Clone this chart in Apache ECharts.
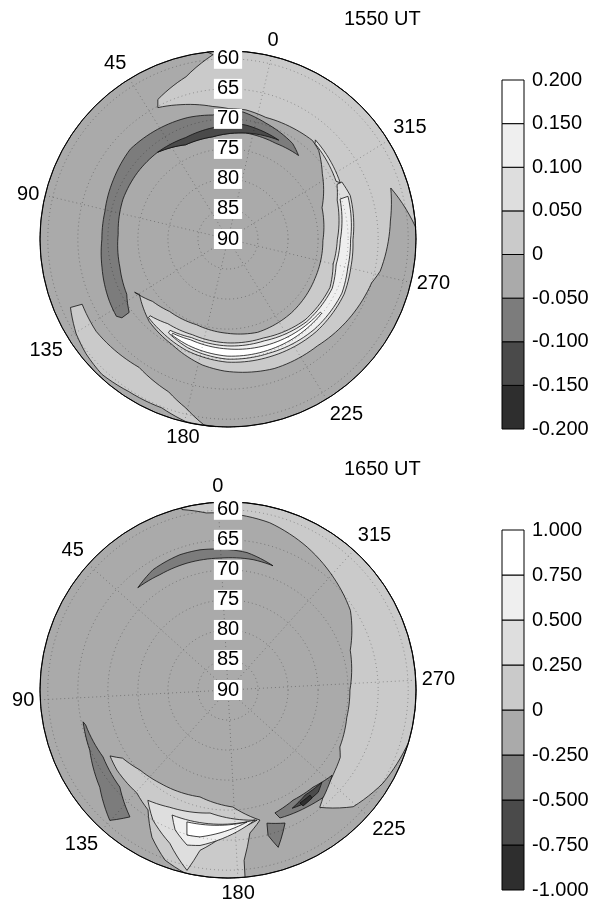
<!DOCTYPE html>
<html>
<head>
<meta charset="utf-8">
<script src="https://cdn.jsdelivr.net/npm/echarts@6/dist/echarts.min.js"></script>
<style>
html,body{margin:0;padding:0;background:#fff;}
#c{width:594px;height:906px;}
</style>
</head>
<body>
<div id="c"></div>
<script>
// ---------- tick labels ----------
const radialTickLabels = [90, 85, 80, 75, 70, 65, 60];           // latitude, centre -> edge
const mltTickLabels = [0, 45, 90, 135, 180, 225, 270, 315];     // angle labels
const rimLat = 58.7;                                            // latitude at the plot edge

// contour levels (colour bar boundaries)
const topLevels = [-0.2, -0.15, -0.1, -0.05, 0, 0.05, 0.1, 0.15, 0.2];
const bottomLevels = [-1, -0.75, -0.5, -0.25, 0, 0.25, 0.5, 0.75, 1];

// ---------- 1550 UT : regions as [latitude, angle] vertices ----------
const topDisc = [[rimLat, 0], [rimLat, 90], [rimLat, 180], [rimLat, 270]];
const topDuskBand = [[58.7, 19.7], [58.7, 340], [58.7, 287], [61.6, 300.8], [62.8, 289.7], [64.1, 271.5],
  [65.0, 266.4], [65.8, 251.5], [66.8, 233.3], [67.1, 213], [68.0, 192], [68.6, 181.8], [70.1, 165.6],
  [71.0, 149.8], [72.6, 135.5], [72.1, 133.1], [73.7, 143], [74.5, 154.5], [74.8, 173.2], [74.3, 193],
  [73.7, 211], [73.8, 234.2], [74.1, 258.9], [74.2, 282.4], [73.5, 301.8], [70.9, 318.1], [68.9, 327.7],
  [68.4, 332.7], [68.6, 343], [68.8, 356.1], [68.3, 5.5], [68.3, 13], [67.8, 19.9], [66.3, 32.7],
  [65.2, 41.5], [64.0, 40.1], [62.1, 27.9], [59.2, 18]];
const topDawnStrip = [[61.4, 126.9], [60.2, 135.4], [59.6, 142.4], [59.2, 150.4], [59.7, 160.4], [59.8, 172],
  [58.8, 180.4], [58.7, 189.7], [58.8, 186], [61.0, 179.4], [62.7, 172.2], [64.0, 158.7], [63.2, 138.4], [63.4, 127.5]];
const topSliver = [[68.0, 332], [69.1, 310], [69.6, 311.5], [68.5, 331]];
// bands: [angle, inner latitude, outer latitude]
const topBright1 = [[310, 69.7, 68.8], [303, 70.7, 68.4], [283, 71.8, 69.2], [270, 72.0, 69.0], [258, 71.2, 68.6],
  [237, 71.4, 68.7], [213, 72.5, 69.2], [193, 72.7, 69.5], [173, 73.0, 70.2], [158, 72.7, 71.0], [148, 71.8, 71.4]];
const topBright2 = [[303, 70.2, 68.8], [283, 71.3, 69.6], [270, 71.5, 69.5], [258, 70.8, 69.0], [237, 71.0, 69.2],
  [213, 72.0, 69.8], [193, 72.2, 70.0], [173, 72.5, 70.7], [161, 72.0, 71.5]];
const topBright3 = [[245, 70.4, 70.1], [225, 70.9, 70.2], [193, 71.7, 70.5], [173, 72.1, 71.1], [163, 71.8, 71.5]];
const topCrescent = [[71.8, 333.2], [70.8, 339.3], [69.7, 355.3], [68.7, 6.7], [69.2, 20.4], [68.7, 31.7],
  [68.3, 46.1], [67.9, 60.8], [68.5, 75.8], [69.0, 91], [69.0, 103.5], [68.5, 116], [67.7, 131.1], [67.4, 138.1],
  [68.0, 140], [69.5, 140], [70.8, 132], [71.4, 118], [71.7, 101], [71.3, 82.6], [71.3, 67], [71.4, 52.5],
  [72.8, 37.6], [72.8, 21.9], [72.1, 3.9], [72.2, 346.9]];
const topCrescentCore = [[71.5, 346.2], [70.8, 4.5], [70.7, 14.5], [71.3, 21.2], [71.7, 36], [71.4, 52.5],
  [72.8, 37.6], [72.8, 21.9], [72.1, 3.9]];
const topRegionValues = [-0.025, 0.025, 0.025, 0.075, 0.125, 0.175, 0.075, -0.075, -0.125];

// ---------- 1650 UT ----------
const bottomDisc = [[rimLat, 0], [rimLat, 90], [rimLat, 180], [rimLat, 270]];
const bottomDuskBand = [[58.7, 11.3], [58.7, 330], [58.7, 251], [59.9, 236], [61.5, 224], [65.2, 215], [66.8, 221],
  [67.7, 230], [68.2, 236], [69.1, 240], [69.7, 254], [69.7, 267], [68.6, 285], [65.7, 300], [64.3, 314],
  [62.8, 328], [61.3, 343], [60.8, 353], [60.3, 4], [59.0, 11.3]];
const bottomNight1 = [[67.5, 116.2], [69.1, 119.9], [70.2, 129.3], [70.8, 140.8], [71.6, 162.3], [70.5, 179.4],
  [67.7, 190.8], [65.9, 185.7], [61.5, 182.4], [58.7, 182.2], [58.7, 163.7], [59.8, 156.7], [62.4, 149.7],
  [66.0, 143.3], [67.1, 135.5], [67.2, 122.8]];
const bottomNight2 = [[67.3, 141], [68.2, 150.6], [69.3, 168.7], [67.8, 189.6], [66.2, 176.6], [62.9, 167.1],
  [59.2, 164.2], [62.7, 156.2], [65.0, 147]];
const bottomNight3 = [[67.2, 152.9], [67.9, 188.7], [63.7, 166.8], [63.3, 162.2], [65.1, 156.3]];
const bottomNight4 = [[67.0, 159.7], [67.8, 185.2], [65.1, 166.2], [64.9, 161.2]];
const bottomNoonArc = [[67.3, 38.4], [66.4, 29], [66.1, 16.6], [66.2, 8.3], [66.5, 0.2], [66.9, 349.1], [68.0, 337.1],
  [67.9, 346.1], [68.0, 0.5], [67.8, 14.9], [67.7, 27.6]];
const bottomDawnStreak = [[65.3, 99.4], [64.9, 110.5], [63.2, 124.2], [60.7, 134.8], [63.3, 139.3], [65.8, 128.9],
  [66.4, 115.2], [65.6, 100.8]];
const bottomBlob = [[67.6, 227.7], [68.5, 218.2], [68.7, 207.6], [68.1, 197.9], [67.0, 199.1], [66.5, 211], [66.1, 218.6]];
const bottomBlobCore2 = [[68.1, 222.6], [68.3, 213.3], [67.6, 205.5], [67.2, 211.3], [67.3, 218.4]];
const bottomBlobCore1 = [[67.8, 215], [67.7, 209.5], [67.0, 209.9], [67.2, 214.9]];
const bottomSmallPatch = [[66.9, 193.3], [65.9, 200.2], [62.5, 194.7], [64.9, 192.4]];
const bottomRegionValues = [-0.125, 0.125, 0.125, 0.375, 0.625, 0.875, -0.375, -0.375, -0.375, -0.625, -0.875, -0.375];

// ---------- styles ----------
const FONT = "'Liberation Sans', Arial, Helvetica, sans-serif";
const grayShades = ['#2e2e2e', '#4a4a4a', '#7c7c7c', '#aaaaaa', '#cacaca', '#dedede', '#efefef', '#ffffff'];

function bandToPoly(band) {
  const outer = band.map(b => [b[2], b[0]]);
  const inner = band.slice().reverse().map(b => [b[1], b[0]]);
  return outer.concat(inner);
}
const topRegions = [topDisc, topDuskBand, topDawnStrip, bandToPoly(topBright1), bandToPoly(topBright2),
  bandToPoly(topBright3), topSliver, topCrescent, topCrescentCore];
const bottomRegions = [bottomDisc, bottomDuskBand, bottomNight1, bottomNight2, bottomNight3, bottomNight4,
  bottomNoonArc, bottomDawnStreak, bottomBlob, bottomBlobCore2, bottomBlobCore1, bottomSmallPatch];

// subdivide edges so that they follow the polar grid
function densify(verts) {
  const out = [];
  for (let i = 0; i < verts.length; i++) {
    const a = verts[i], b = verts[(i + 1) % verts.length];
    const d = (((b[1] - a[1]) % 360) + 540) % 360 - 180;
    const n = Math.max(1, Math.ceil(Math.abs(d) / 2));
    for (let k = 0; k < n; k++) {
      const t = k / n;
      out.push([a[0] + t * (b[0] - a[0]), (a[1] + t * d + 720) % 360]);
    }
  }
  return out;
}
function regionRenderer(shapes) {
  return function (params, api) {
    const pts = densify(shapes[params.dataIndex]).map(v => api.coord([90 - v[0], v[1]]));
    return {
      type: 'polygon', shape: { points: pts },
      style: { fill: api.visual('color'), stroke: '#111', lineWidth: 0.8 }
    };
  };
}
function barRenderer(params, api) {
  const top = api.coord([api.value(0), api.value(3)]);
  const bot = api.coord([api.value(0), api.value(1)]);
  const w = api.size([1, 0])[0];
  return {
    type: 'rect', shape: { x: top[0] - w / 2, y: top[1], width: w, height: bot[1] - top[1] },
    style: { fill: api.visual('color'), stroke: '#000', lineWidth: 1 }
  };
}
function pieces(levels) {
  const p = [];
  for (let i = 0; i < levels.length - 1; i++) p.push({ gt: levels[i], lt: levels[i + 1], color: grayShades[i] });
  return p;
}
function barData(levels) {
  const d = [];
  for (let i = 0; i < levels.length - 1; i++) d.push([0, levels[i], (levels[i] + levels[i + 1]) / 2, levels[i + 1]]);
  return d;
}
const fmtLevel = v => Math.abs(v) < 1e-9 ? '0' : v.toFixed(3);

function dataAngleAxis(idx, start) {
  return {
    polarIndex: idx, type: 'value', min: 0, max: 360, interval: 45, startAngle: start, clockwise: false, z: 5,
    axisLine: { show: true, lineStyle: { color: '#000', width: 1 } },
    axisTick: { show: false },
    axisLabel: {
      show: true, margin: 6, fontSize: 20, color: '#000', fontFamily: FONT,
      formatter: v => { const i = Math.round(v / 45); return i < mltTickLabels.length ? String(mltTickLabels[i]) : ''; }
    },
    splitLine: { show: true, lineStyle: { color: '#000', type: [1, 3], width: 1, opacity: 0.3 } }
  };
}
function dataRadiusAxis(idx) {
  return {
    polarIndex: idx, type: 'value', min: 0, max: 90 - rimLat, interval: 5, z: 5,
    axisLine: { show: false }, axisTick: { show: false }, axisLabel: { show: false },
    splitLine: { show: true, lineStyle: { color: '#000', type: [1, 3], width: 1, opacity: 0.3 } }
  };
}
function labelAngleAxis(idx) {
  return { polarIndex: idx, type: 'value', min: 0, max: 360, startAngle: 90, show: false };
}
function labelRadiusAxis(idx) {
  return {
    polarIndex: idx, type: 'value', min: 0, max: 90 - rimLat, interval: 5, z: 10,
    axisLine: { show: false }, axisTick: { show: false }, splitLine: { show: false },
    axisLabel: {
      show: true, showMaxLabel: false, margin: 0, align: 'center', verticalAlign: 'middle',
      fontSize: 20, color: '#000', fontFamily: FONT, backgroundColor: '#fff',
      padding: [1, 3, 0, 3], lineHeight: 19,
      formatter: v => String(radialTickLabels[Math.round(v / 5)])
    }
  };
}
function barYAxis(idx, levels) {
  return {
    gridIndex: idx, type: 'value', position: 'right', min: levels[0], max: levels[levels.length - 1],
    interval: levels[1] - levels[0],
    axisLine: { show: false }, axisTick: { show: false }, splitLine: { show: false },
    axisLabel: { show: true, margin: 8, fontSize: 20, color: '#000', fontFamily: FONT, formatter: fmtLevel }
  };
}

const chart = echarts.init(document.getElementById('c'), null, { renderer: 'canvas' });
chart.setOption({
  animation: false,
  backgroundColor: '#fff',
  title: [
    { text: '1550 UT', left: 344, top: 9, padding: 0, textStyle: { fontSize: 20, fontWeight: 'normal', color: '#000', fontFamily: FONT } },
    { text: '1650 UT', left: 344, top: 459, padding: 0, textStyle: { fontSize: 20, fontWeight: 'normal', color: '#000', fontFamily: FONT } }
  ],
  polar: [
    { center: [228, 239], radius: 188 },
    { center: [228, 239], radius: 188 },
    { center: [228, 690], radius: 188 },
    { center: [228, 690], radius: 188 }
  ],
  angleAxis: [dataAngleAxis(0, 76.6), labelAngleAxis(1), dataAngleAxis(2, 93), labelAngleAxis(3)],
  radiusAxis: [dataRadiusAxis(0), labelRadiusAxis(1), dataRadiusAxis(2), labelRadiusAxis(3)],
  grid: [
    { left: 502, top: 80, width: 22, height: 349 },
    { left: 502, top: 530, width: 22, height: 360 }
  ],
  xAxis: [
    { gridIndex: 0, type: 'category', data: ['bar'], show: false },
    { gridIndex: 1, type: 'category', data: ['bar'], show: false }
  ],
  yAxis: [barYAxis(0, topLevels), barYAxis(1, bottomLevels)],
  visualMap: [
    { type: 'piecewise', show: false, dimension: 2, seriesIndex: [0, 1], pieces: pieces(topLevels) },
    { type: 'piecewise', show: false, dimension: 2, seriesIndex: [2, 3], pieces: pieces(bottomLevels) }
  ],
  series: [
    { type: 'custom', coordinateSystem: 'polar', polarIndex: 0, renderItem: regionRenderer(topRegions),
      data: topRegionValues.map((v, i) => [0, 0, v, i]), silent: true },
    { type: 'custom', coordinateSystem: 'cartesian2d', xAxisIndex: 0, yAxisIndex: 0, renderItem: barRenderer,
      data: barData(topLevels), silent: true },
    { type: 'custom', coordinateSystem: 'polar', polarIndex: 2, renderItem: regionRenderer(bottomRegions),
      data: bottomRegionValues.map((v, i) => [0, 0, v, i]), silent: true },
    { type: 'custom', coordinateSystem: 'cartesian2d', xAxisIndex: 1, yAxisIndex: 1, renderItem: barRenderer,
      data: barData(bottomLevels), silent: true }
  ]
});
</script>
</body>
</html>
